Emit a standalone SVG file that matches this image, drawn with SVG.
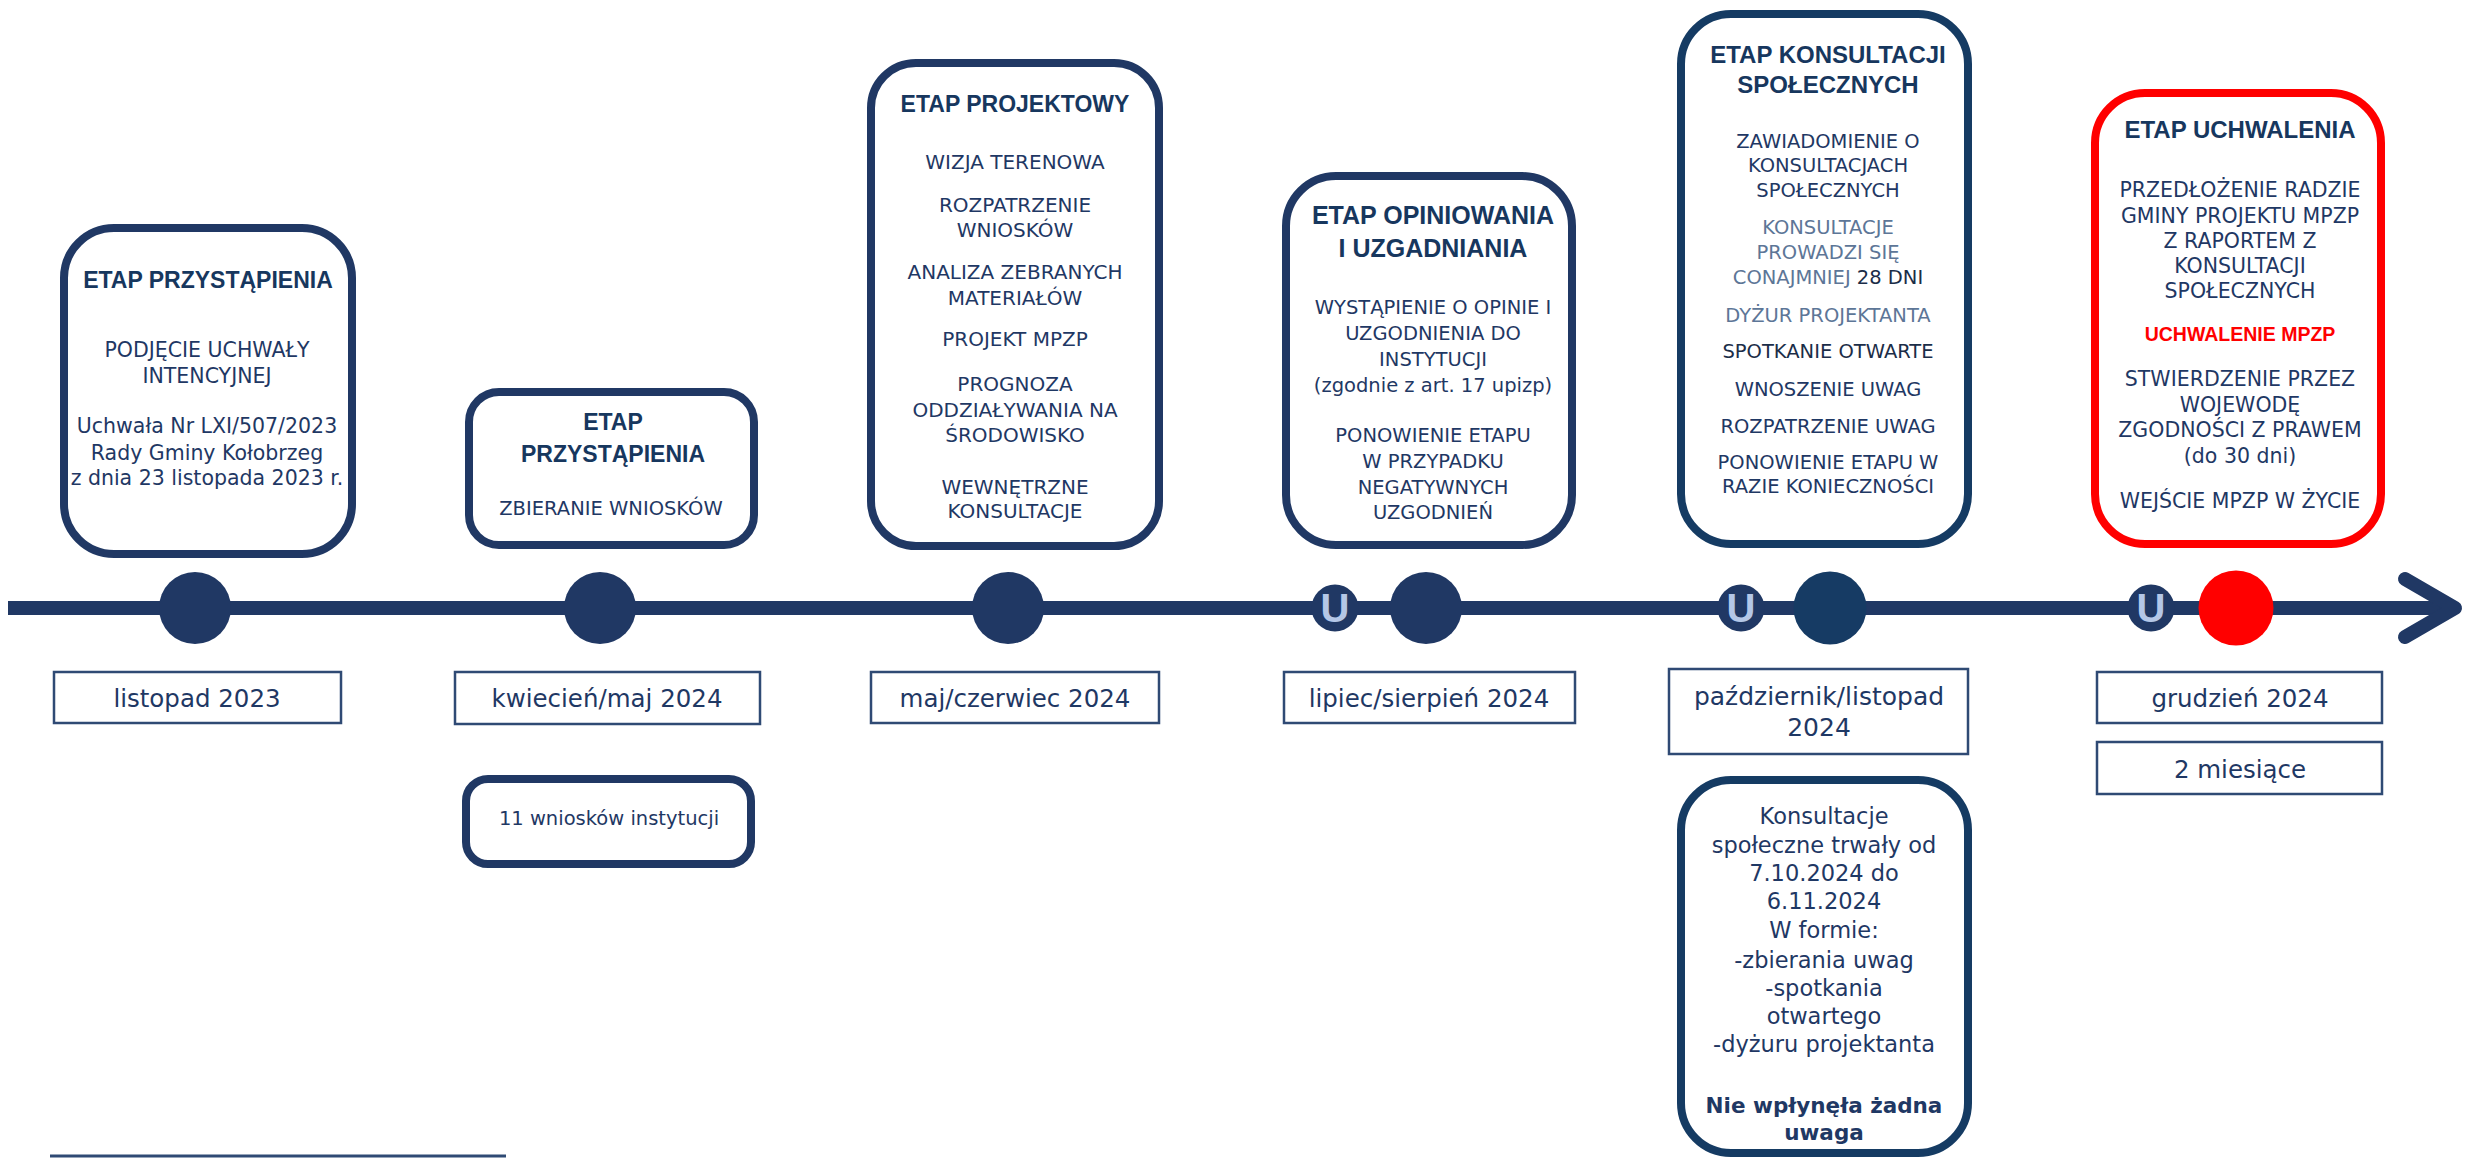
<svg xmlns="http://www.w3.org/2000/svg" width="2465" height="1158" viewBox="0 0 2465 1158">
<style>
.bg{fill:#ffffff}
.box{fill:#ffffff;stroke:#203864;stroke-width:8}
.boxb{fill:#ffffff;stroke:#153b63;stroke-width:8}
.boxr{fill:#ffffff;stroke:#ff0000;stroke-width:8}
.date{fill:#ffffff;stroke:#2f4a74;stroke-width:2.5}
.dot{fill:#203864}
.dotb{fill:#163b64}
.dotr{fill:#ff0000}
.u{fill:#203864}
.ut{font-family:"Liberation Sans",Arial,sans-serif;font-weight:bold;font-size:40px;fill:#b4c7e7;text-anchor:middle}
.h{font-family:"Liberation Sans",Arial,sans-serif;font-weight:bold;font-size:23px;fill:#17375e;text-anchor:middle}
.b{font-family:"DejaVu Sans",Verdana,sans-serif;font-size:20px;fill:#1f3864;text-anchor:middle}
.lt{fill:#5d7697}
.dk{fill:#1b2d48}
.d{font-family:"DejaVu Sans",Verdana,sans-serif;font-size:24.5px;fill:#1f3864;text-anchor:middle}
.red{font-family:"Liberation Sans",Arial,sans-serif;font-weight:bold;font-size:19.5px;fill:#ff0000;text-anchor:middle}
.bb{font-family:"DejaVu Sans",Verdana,sans-serif;font-weight:bold;font-size:21.5px;fill:#1f3864;text-anchor:middle}
.line{stroke:#203864;stroke-width:14;fill:none;stroke-linecap:butt}
.arrow{stroke:#203864;stroke-width:14;fill:none;stroke-linecap:round;stroke-linejoin:round}
</style>
<rect class="bg" x="0" y="0" width="2465" height="1158"/>

<g id="connectors">
  <line class="line" x1="8" y1="608" x2="2450" y2="608"/>
  <polyline class="arrow" points="2405,579 2455,608 2405,637"/>
  <line x1="50" y1="1156" x2="506" y2="1156" stroke="#2f4a74" stroke-width="3"/>
</g>

<g id="stage1">
  <rect class="box" x="64" y="228" width="288" height="326" rx="50"/>
  <text class="h" x="208" y="288">ETAP PRZYSTĄPIENIA</text>
  <text class="b" x="207" y="357" style="font-size:20.5px">PODJĘCIE UCHWAŁY</text>
  <text class="b" x="207" y="383" style="font-size:20.5px">INTENCYJNEJ</text>
  <text class="b" x="207" y="433" style="font-size:20.5px">Uchwała Nr LXI/507/2023</text>
  <text class="b" x="207" y="460" style="font-size:20.5px">Rady Gminy Kołobrzeg</text>
  <text class="b" x="207" y="485" style="font-size:20.5px">z dnia 23 listopada 2023 r.</text>
</g>
<g id="dot1"><circle class="dot" cx="195" cy="608" r="36"/></g>
<g id="date1">
  <rect class="date" x="54" y="672" width="287" height="51"/>
  <text class="d" x="197" y="707">listopad 2023</text>
</g>

<g id="stage2">
  <rect class="box" x="469" y="392" width="285" height="153" rx="30"/>
  <text class="h" x="613" y="430">ETAP</text>
  <text class="h" x="613" y="462">PRZYSTĄPIENIA</text>
  <text class="b" x="611" y="515" style="font-size:19.5px">ZBIERANIE WNIOSKÓW</text>
</g>
<g id="dot2"><circle class="dot" cx="600" cy="608" r="36"/></g>
<g id="date2">
  <rect class="date" x="455" y="672" width="305" height="52"/>
  <text class="d" x="607" y="707">kwiecień/maj 2024</text>
</g>
<g id="note2">
  <rect class="box" x="466" y="779" width="285" height="85" rx="22"/>
  <text class="b" x="609" y="825" style="font-size:19.5px">11 wniosków instytucji</text>
</g>

<g id="stage3">
  <rect class="box" x="871" y="63" width="288" height="483" rx="45"/>
  <text class="h" x="1015" y="112">ETAP PROJEKTOWY</text>
  <text class="b" x="1015" y="169">WIZJA TERENOWA</text>
  <text class="b" x="1015" y="212">ROZPATRZENIE</text>
  <text class="b" x="1015" y="237">WNIOSKÓW</text>
  <text class="b" x="1015" y="279">ANALIZA ZEBRANYCH</text>
  <text class="b" x="1015" y="305">MATERIAŁÓW</text>
  <text class="b" x="1015" y="346">PROJEKT MPZP</text>
  <text class="b" x="1015" y="391">PROGNOZA</text>
  <text class="b" x="1015" y="417">ODDZIAŁYWANIA NA</text>
  <text class="b" x="1015" y="442">ŚRODOWISKO</text>
  <text class="b" x="1015" y="494">WEWNĘTRZNE</text>
  <text class="b" x="1015" y="518">KONSULTACJE</text>
</g>
<g id="dot3"><circle class="dot" cx="1008" cy="608" r="36"/></g>
<g id="date3">
  <rect class="date" x="871" y="672" width="288" height="51"/>
  <text class="d" x="1015" y="707">maj/czerwiec 2024</text>
</g>

<g id="stage4">
  <rect class="box" x="1286" y="176" width="286" height="369" rx="50"/>
  <text class="h" x="1433" y="224" style="font-size:25px">ETAP OPINIOWANIA</text>
  <text class="h" x="1433" y="257" style="font-size:25px">I UZGADNIANIA</text>
  <text class="b" x="1433" y="314" style="font-size:19.5px">WYSTĄPIENIE O OPINIE I</text>
  <text class="b" x="1433" y="340" style="font-size:19.5px">UZGODNIENIA DO</text>
  <text class="b" x="1433" y="366" style="font-size:19.5px">INSTYTUCJI</text>
  <text class="b" x="1433" y="392" style="font-size:19.5px">(zgodnie z art. 17 upizp)</text>
  <text class="b" x="1433" y="442" style="font-size:19.5px">PONOWIENIE ETAPU</text>
  <text class="b" x="1433" y="468" style="font-size:19.5px">W PRZYPADKU</text>
  <text class="b" x="1433" y="494" style="font-size:19.5px">NEGATYWNYCH</text>
  <text class="b" x="1433" y="519" style="font-size:19.5px">UZGODNIEŃ</text>
</g>
<g id="u1">
  <circle class="u" cx="1335" cy="608" r="23.5"/>
  <text class="ut" x="1335" y="622">U</text>
</g>
<g id="dot4"><circle class="dot" cx="1426" cy="608" r="36"/></g>
<g id="date4">
  <rect class="date" x="1284" y="672" width="291" height="51"/>
  <text class="d" x="1429" y="707">lipiec/sierpień 2024</text>
</g>

<g id="stage5">
  <rect class="boxb" x="1681" y="14" width="287" height="530" rx="50"/>
  <text class="h" x="1828" y="63" style="font-size:24px">ETAP KONSULTACJI</text>
  <text class="h" x="1828" y="93" style="font-size:24px">SPOŁECZNYCH</text>
  <text class="b" x="1828" y="148" style="font-size:19.5px">ZAWIADOMIENIE O</text>
  <text class="b" x="1828" y="172" style="font-size:19.5px">KONSULTACJACH</text>
  <text class="b" x="1828" y="197" style="font-size:19.5px">SPOŁECZNYCH</text>
  <text class="b lt" x="1828" y="234" style="font-size:19.5px">KONSULTACJE</text>
  <text class="b lt" x="1828" y="259" style="font-size:19.5px">PROWADZI SIĘ</text>
  <text class="b lt" x="1828" y="284" style="font-size:19.5px">CONAJMNIEJ <tspan class="dk">28 DNI</tspan></text>
  <text class="b lt" x="1828" y="322" style="font-size:19.5px">DYŻUR PROJEKTANTA</text>
  <text class="b dk" x="1828" y="358" style="font-size:19.5px">SPOTKANIE OTWARTE</text>
  <text class="b" x="1828" y="396" style="font-size:19.5px">WNOSZENIE UWAG</text>
  <text class="b" x="1828" y="433" style="font-size:19.5px">ROZPATRZENIE UWAG</text>
  <text class="b" x="1828" y="469" style="font-size:19.5px">PONOWIENIE ETAPU W</text>
  <text class="b" x="1828" y="493" style="font-size:19.5px">RAZIE KONIECZNOŚCI</text>
</g>
<g id="u2">
  <circle class="u" cx="1741" cy="608" r="23.5"/>
  <text class="ut" x="1741" y="622">U</text>
</g>
<g id="dot5"><circle class="dotb" cx="1830" cy="608" r="36.5"/></g>
<g id="date5">
  <rect class="date" x="1669" y="669" width="299" height="85"/>
  <text class="d" x="1819" y="705" style="font-size:25px">październik/listopad</text>
  <text class="d" x="1819" y="736" style="font-size:25px">2024</text>
</g>
<g id="note5">
  <rect class="boxb" x="1681" y="780" width="287" height="373" rx="50"/>
  <text class="b" x="1824" y="824" style="font-size:22.5px">Konsultacje</text>
  <text class="b" x="1824" y="853" style="font-size:22.5px">społeczne trwały od</text>
  <text class="b" x="1824" y="881" style="font-size:22.5px">7.10.2024 do</text>
  <text class="b" x="1824" y="909" style="font-size:22.5px">6.11.2024</text>
  <text class="b" x="1824" y="938" style="font-size:22.5px">W formie:</text>
  <text class="b" x="1824" y="968" style="font-size:22.5px">-zbierania uwag</text>
  <text class="b" x="1824" y="996" style="font-size:22.5px">-spotkania</text>
  <text class="b" x="1824" y="1024" style="font-size:22.5px">otwartego</text>
  <text class="b" x="1824" y="1052" style="font-size:22.5px">-dyżuru projektanta</text>
  <text class="bb" x="1824" y="1113">Nie wpłynęła żadna</text>
  <text class="bb" x="1824" y="1140">uwaga</text>
</g>

<g id="stage6">
  <rect class="boxr" x="2095" y="93" width="286" height="451" rx="50"/>
  <text class="h" x="2240" y="138" style="font-size:24px">ETAP UCHWALENIA</text>
  <text class="b" x="2240" y="197" style="font-size:20.5px">PRZEDŁOŻENIE RADZIE</text>
  <text class="b" x="2240" y="223" style="font-size:20.5px">GMINY PROJEKTU MPZP</text>
  <text class="b" x="2240" y="248" style="font-size:20.5px">Z RAPORTEM Z</text>
  <text class="b" x="2240" y="273" style="font-size:20.5px">KONSULTACJI</text>
  <text class="b" x="2240" y="298" style="font-size:20.5px">SPOŁECZNYCH</text>
  <text class="red" x="2240" y="341">UCHWALENIE MPZP</text>
  <text class="b" x="2240" y="386" style="font-size:20.5px">STWIERDZENIE PRZEZ</text>
  <text class="b" x="2240" y="412" style="font-size:20.5px">WOJEWODĘ</text>
  <text class="b" x="2240" y="437" style="font-size:20.5px">ZGODNOŚCI Z PRAWEM</text>
  <text class="b" x="2240" y="463" style="font-size:20.5px">(do 30 dni)</text>
  <text class="b" x="2240" y="508" style="font-size:20.5px">WEJŚCIE MPZP W ŻYCIE</text>
</g>
<g id="u3">
  <circle class="u" cx="2151" cy="608" r="23.5"/>
  <text class="ut" x="2151" y="622">U</text>
</g>
<g id="dot6"><circle class="dotr" cx="2236" cy="608" r="37.5"/></g>
<g id="date6">
  <rect class="date" x="2097" y="672" width="285" height="51"/>
  <text class="d" x="2240" y="707">grudzień 2024</text>
</g>
<g id="dur6">
  <rect class="date" x="2097" y="742" width="285" height="52"/>
  <text class="d" x="2240" y="778">2 miesiące</text>
</g>
</svg>
